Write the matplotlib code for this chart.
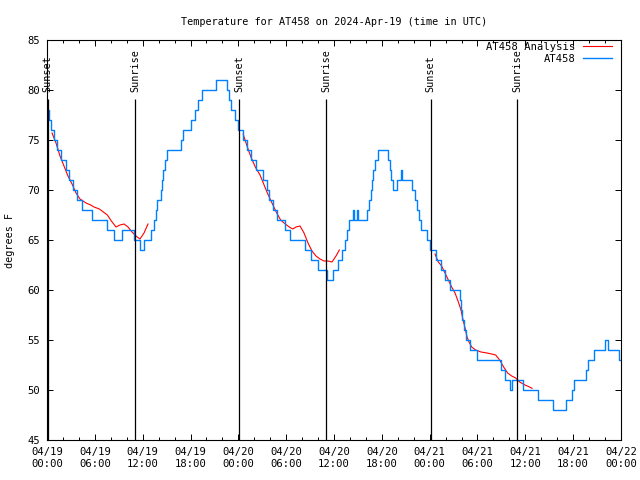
import matplotlib
matplotlib.use("Agg")
import matplotlib.pyplot as plt

plt.rcParams['font.family'] = ['DejaVu Sans Mono']

# hours since 04/19 00:00 UTC, temperature in F (step series)
at458 = [(0.05, 78), (0.3, 77), (0.55, 76), (0.85, 75), (1.30, 74), (1.71, 73),
         (2.38, 72), (2.80, 71), (3.22, 70), (3.72, 69), (4.39, 68), (5.64, 67),
         (7.57, 66), (8.40, 65), (9.41, 66), (10.91, 65), (11.67, 64), (12.17, 65),
         (13.0, 66), (13.4, 67), (13.67, 68), (13.84, 69), (14.26, 70), (14.43, 71),
         (14.59, 72), (14.76, 73), (15.01, 74), (16.85, 75), (17.1, 76), (18.1, 77),
         (18.6, 78), (19.0, 79), (19.4, 80), (21.2, 81), (22.6, 80), (22.87, 79),
         (23.1, 78), (23.54, 77), (24.0, 76), (24.63, 75), (25.13, 74), (25.63, 73),
         (26.22, 72), (27.05, 71), (27.55, 70), (27.81, 69), (28.31, 68), (28.89, 67),
         (29.90, 66), (30.48, 65), (32.40, 64), (33.16, 63), (33.99, 62), (35.16, 61),
         (35.92, 62), (36.50, 63), (37.00, 64), (37.34, 65), (37.59, 66), (37.84, 67),
         (38.35, 68), (38.55, 67), (38.85, 68), (39.05, 67), (40.1, 68), (40.35, 69),
         (40.6, 70), (40.77, 71), (40.93, 72), (41.10, 73), (41.5, 74), (42.8, 73),
         (43.0, 72), (43.19, 71), (43.44, 70), (43.94, 71), (44.36, 72), (44.55, 71),
         (45.8, 70), (46.2, 69), (46.45, 68), (46.7, 67), (46.95, 66), (47.2, 66),
         (47.65, 65), (48.0, 64), (48.85, 63), (49.42, 62), (49.92, 61), (50.51, 60),
         (51.8, 59), (51.9, 58), (52.0, 57), (52.3, 56), (52.6, 55), (53.1, 54),
         (53.9, 53), (57.0, 52), (57.45, 51), (58.12, 50), (58.3, 51), (59.7, 50),
         (61.6, 49), (63.45, 48), (65.15, 49), (65.85, 50), (66.1, 51), (67.6, 52),
         (67.9, 53), (68.6, 54), (70.0, 55), (70.4, 54), (71.7, 53), (72.0, 53)]

# analysis curve, three nightly pieces
analysis_1 = [(0.63, 75.7), (1.13, 74.7), (1.63, 73.4), (2.13, 72.4), (2.63, 71.4),
              (3.14, 70.6), (3.64, 69.7), (4.14, 69.1), (4.89, 68.7), (5.48, 68.5),
              (5.90, 68.3), (6.57, 68.1), (7.07, 67.8), (7.57, 67.5), (8.07, 66.9),
              (8.66, 66.3), (9.16, 66.5), (9.66, 66.6), (10.16, 66.3), (10.66, 65.8),
              (11.16, 65.4), (11.66, 65.1), (12.17, 65.7), (12.67, 66.6)]
analysis_2 = [(24.6, 75.6), (25.13, 74.3), (25.63, 73.2), (26.13, 72.3), (26.72, 71.5),
              (27.13, 70.7), (27.64, 69.7), (28.22, 68.7), (28.81, 67.7), (29.31, 67.0),
              (29.89, 66.6), (30.39, 66.3), (30.82, 66.1), (31.23, 66.3), (31.74, 66.4),
              (32.24, 65.7), (32.74, 64.7), (33.24, 63.9), (33.74, 63.4), (34.24, 63.1),
              (34.75, 62.9), (35.25, 62.9), (35.75, 62.8), (36.25, 63.4), (36.67, 64.0)]
analysis_3 = [(48.67, 63.6), (49.09, 62.8), (49.5, 62.4), (49.92, 61.7), (50.34, 61.0),
              (50.76, 60.3), (51.18, 59.7), (51.6, 58.8), (51.93, 58.0), (52.19, 57.0),
              (52.44, 56.2), (52.69, 55.3), (52.94, 54.8), (53.27, 54.3), (53.77, 54.0),
              (54.44, 53.8), (55.19, 53.7), (55.78, 53.6), (56.28, 53.5), (56.78, 53.0),
              (57.28, 52.3), (57.78, 51.7), (58.29, 51.4), (58.79, 51.2), (59.29, 50.8),
              (59.96, 50.5), (60.4, 50.35), (60.84, 50.17)]

sun_hours = [0.1, 11.05, 24.08, 35.0, 48.15, 58.95]
sun_labels = ['Sunset', 'Sunrise', 'Sunset', 'Sunrise', 'Sunset', 'Sunrise']

tick_hours = list(range(0, 73, 6))
tick_labels = ['04/19\n00:00', '04/19\n06:00', '04/19\n12:00', '04/19\n18:00',
               '04/20\n00:00', '04/20\n06:00', '04/20\n12:00', '04/20\n18:00',
               '04/21\n00:00', '04/21\n06:00', '04/21\n12:00', '04/21\n18:00',
               '04/22\n00:00']

fig = plt.figure(figsize=(6.4, 4.8), dpi=100)
ax = fig.add_axes([47 / 640, 40 / 480, 574 / 640, 400 / 480])

first = True
for seg in (analysis_1, analysis_2, analysis_3):
    xs, ys = zip(*seg)
    ax.plot(xs, ys, color='#ff0000', lw=0.8, label='AT458 Analysis' if first else None)
    first = False

bx, by = zip(*at458)
ax.plot(bx, by, color='#0080ff', lw=1.0, drawstyle='steps-post', label='AT458')

ax.vlines(sun_hours, 45, 79.1, color='black', lw=0.9)
for h, lab in zip(sun_hours, sun_labels):
    ax.text(h, 79.8, lab, rotation=90, ha='center', va='bottom', fontsize=7.3)

ax.set_xlim(0, 72)
ax.set_ylim(45, 85)
ax.set_xticks(tick_hours)
ax.set_xticklabels(tick_labels)
ax.set_xticks(range(0, 73, 2), minor=True)
ax.set_yticks(range(45, 86, 5))
ax.tick_params(which='both', direction='in', top=True, right=True, labelsize=7.6, width=0.7)
ax.tick_params(which='major', length=4)
ax.tick_params(which='minor', length=2.2)
ax.tick_params(axis='x', pad=5)
ax.tick_params(axis='y', pad=5)
for sp in ax.spines.values():
    sp.set_linewidth(0.8)

ax.set_title('Temperature for AT458 on 2024-Apr-19 (time in UTC)', fontsize=7.3, pad=11)
fig.text(10 / 640, 0.5, 'degrees F', rotation=90, ha='center', va='center', fontsize=7.3)

ax.legend(loc='upper right', bbox_to_anchor=(0.985, 0.995), frameon=False,
          markerfirst=False, fontsize=7.6, handlelength=2.8, handletextpad=0.7,
          labelspacing=0.15, borderpad=0, borderaxespad=0)

fig.savefig('out.png', dpi=100)
